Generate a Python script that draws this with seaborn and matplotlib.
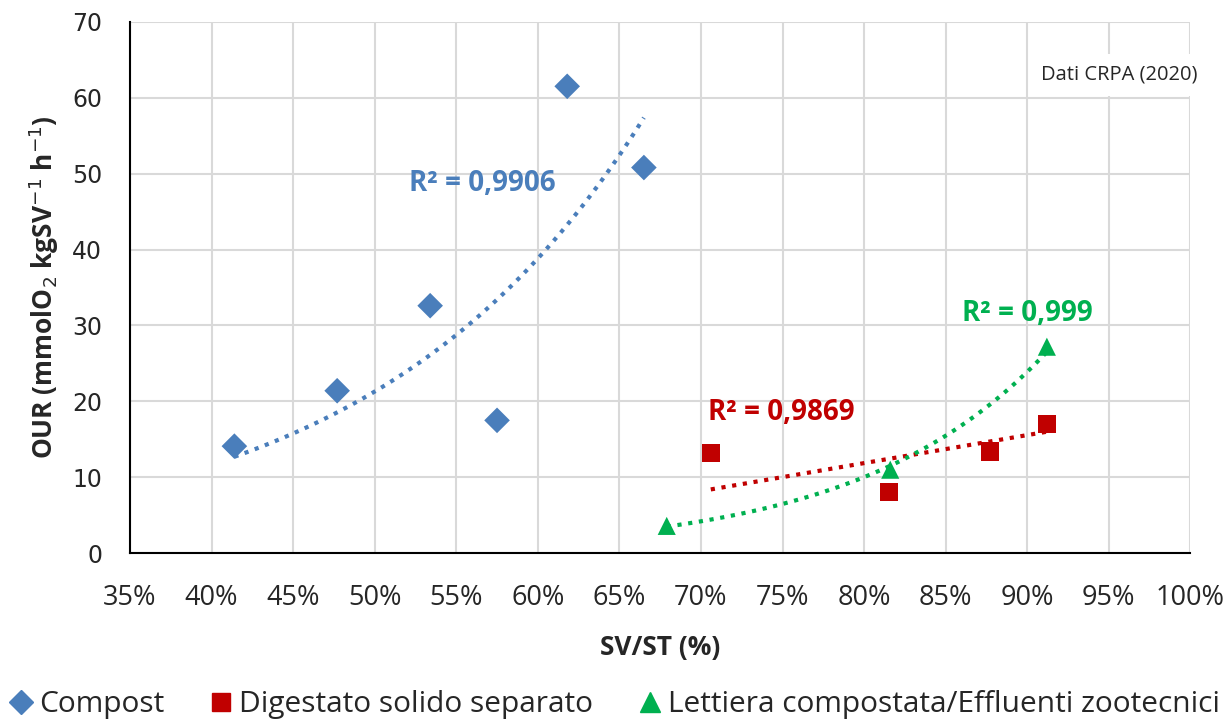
import numpy as np
import pandas as pd
import seaborn as sns
import matplotlib
matplotlib.use("Agg")
from matplotlib import pyplot as plt
from matplotlib.ticker import PercentFormatter

# data (SV/ST as fraction, OUR in mmolO2/kgSV/h)
compost_x = [0.414, 0.477, 0.534, 0.575, 0.618, 0.665]
compost_y = [14.1, 21.4, 32.6, 17.5, 61.5, 50.8]
digestato_x = [0.706, 0.815, 0.877, 0.912]
digestato_y = [13.2, 8.1, 13.4, 17.0]
lettiera_x = [0.679, 0.816, 0.912]
lettiera_y = [3.6, 11.0, 27.2]

series_names = ["Compost", "Digestato solido separato",
                "Lettiera compostata/Effluenti zootecnici"]

# trendline coefficients as drawn in the original (Excel trendlines)
trend_compost = (1.057, 6.006)       # y = a*exp(b*x)
trend_digestato = (36.9, -17.65)     # y = m*x + q
trend_lettiera = (0.00959, 8.69)     # y = a*exp(b*x)
r2_labels = ["R² = 0,9906", "R² = 0,9869", "R² = 0,999"]

blue = "#4a7ebb"
red = "#c00000"
green = "#00b050"

df = pd.concat([
    pd.DataFrame({"x": compost_x, "y": compost_y, "serie": series_names[0]}),
    pd.DataFrame({"x": digestato_x, "y": digestato_y, "serie": series_names[1]}),
    pd.DataFrame({"x": lettiera_x, "y": lettiera_y, "serie": series_names[2]}),
])

sns.set_theme(style="whitegrid")
plt.rcParams["font.family"] = ["Open Sans", "DejaVu Sans"]

fig = plt.figure(figsize=(12.26, 7.26), dpi=100)
ax = fig.add_axes([0.106, 0.238, 0.865, 0.732])

# trendlines
xc = np.linspace(min(compost_x), max(compost_x), 100)
xd = np.linspace(min(digestato_x), max(digestato_x), 100)
xl = np.linspace(min(lettiera_x), max(lettiera_x), 100)
ax.plot(xc, trend_compost[0] * np.exp(trend_compost[1] * xc), ls=(0, (1, 1.6)),
        color=blue, lw=3, zorder=3)
ax.plot(xd, trend_digestato[0] * xd + trend_digestato[1], ls=(0, (1, 1.6)),
        color=red, lw=3, zorder=3)
ax.plot(xl, trend_lettiera[0] * np.exp(trend_lettiera[1] * xl), ls=(0, (1, 1.6)),
        color=green, lw=3, zorder=3)

sns.scatterplot(data=df, x="x", y="y", hue="serie", style="serie",
                palette=[blue, red, green], markers=["D", "s", "^"],
                s=170, edgecolor="none", ax=ax, zorder=4, legend=False)

ax.set_xlim(0.35, 1.0)
ax.set_ylim(0, 70)
ax.set_xticks(np.arange(0.35, 1.001, 0.05))
ax.set_yticks(range(0, 71, 10))
ax.xaxis.set_major_formatter(PercentFormatter(1.0, decimals=0))
ax.grid(True, color="#d9d9d9", lw=1.5)
for s in ["top", "right"]:
    ax.spines[s].set_visible(False)
for s in ["left", "bottom"]:
    ax.spines[s].set_color("black")
    ax.spines[s].set_linewidth(1.5)
ax.tick_params(axis="x", direction="inout", length=12, width=1.5, color="black",
               pad=16)
ax.tick_params(axis="y", length=0, pad=20)
for lab in ax.get_xticklabels():
    lab.set_fontsize(19.5)
for lab in ax.get_yticklabels():
    lab.set_family("DejaVu Sans")
    lab.set_fontsize(17)

ax.set_xlabel("SV/ST (%)", fontsize=19, fontweight="bold", labelpad=16)
ax.set_ylabel(r"OUR (mmolO$_2$ kgSV$^{-1}$ h$^{-1}$)", fontsize=19,
              fontweight="bold", labelpad=8)

ax.text(0.566, 48.7, r2_labels[0], color=blue, fontsize=20, fontweight="bold",
        ha="center", va="center")
ax.text(0.749, 18.6, r2_labels[1], color=red, fontsize=20, fontweight="bold",
        ha="center", va="center")
ax.text(0.900, 31.6, r2_labels[2], color=green, fontsize=20, fontweight="bold",
        ha="center", va="center")
fig.text(0.913, 0.897, "Dati CRPA (2020)", fontsize=14.5, ha="center", va="center",
         bbox=dict(facecolor="white", edgecolor="none", pad=8), zorder=5)

handles = [
    plt.Line2D([], [], marker="D", ls="", color=blue, markersize=12),
    plt.Line2D([], [], marker="s", ls="", color=red, markersize=13),
    plt.Line2D([], [], marker="^", ls="", color=green, markersize=14),
]
fig.legend(handles, series_names, loc="lower center", ncol=3, frameon=False,
           bbox_to_anchor=(0.5, -0.028), fontsize=21.5, handletextpad=0.1,
           columnspacing=1.4, handlelength=1.0)

fig.savefig("out.png", dpi=100)
